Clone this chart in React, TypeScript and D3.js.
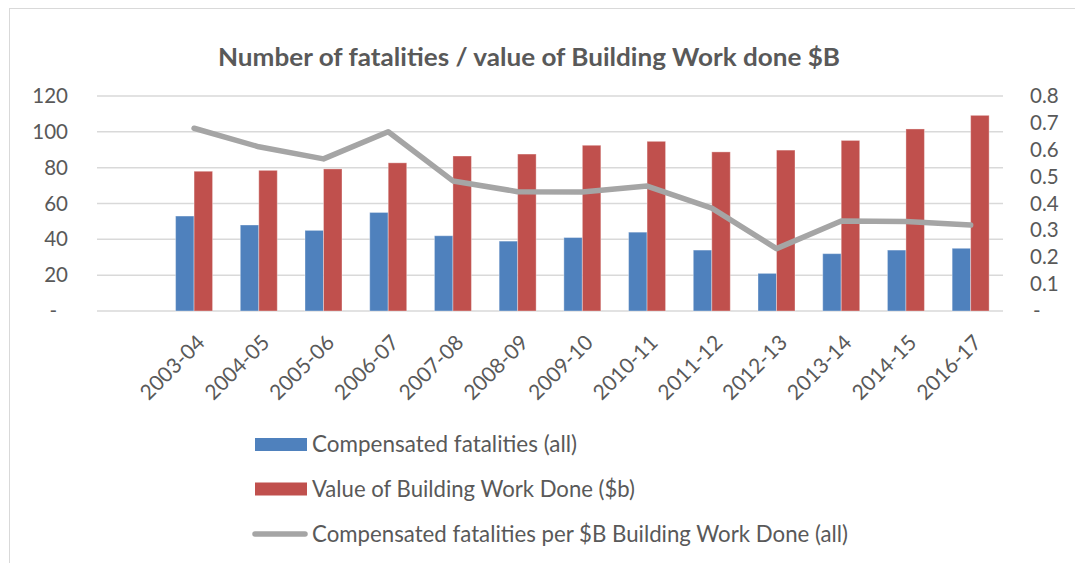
import * as d3 from 'd3';
import { useEffect, useRef } from 'react';

// first slot of the category axis is empty in the original chart
const categories = ['', '2003-04', '2004-05', '2005-06', '2006-07', '2007-08', '2008-09', '2009-10',
    '2010-11', '2011-12', '2012-13', '2013-14', '2014-15', '2016-17'];
const fatalities = [null, 53, 48, 45, 55, 42, 39, 41, 44, 34, 21, 32, 34, 35];
const buildingWork = [null, 78, 78.5, 79.3, 82.7, 86.5, 87.6, 92.5, 94.7, 88.8, 89.8, 95.2, 101.6, 109.2];
const perBillion = [null, 0.68, 0.611, 0.566, 0.667, 0.484, 0.444, 0.443, 0.465, 0.383, 0.232, 0.335, 0.333, 0.32];
const leftTicks = [0, 20, 40, 60, 80, 100, 120];
const rightTicks = [0, 0.1, 0.2, 0.3, 0.4, 0.5, 0.6, 0.7, 0.8];

const seriesNames = [
    'Compensated fatalities (all)',
    'Value of Building Work Done ($b)',
    'Compensated fatalities per $B Building Work Done (all)',
];
const title = 'Number of fatalities / value of Building Work done $B';

const BLUE = '#4f81bd';
const RED = '#c0504d';
const GREY = '#a5a5a5';
const TEXT = '#595959';
const FONT = 'Lato, "Open Sans", sans-serif';

export default function App() {
    const ref = useRef<SVGSVGElement>(null);

    useEffect(() => {
        const svg = d3.select(ref.current);
        svg.selectAll('*').remove();

        const left = 97, right = 1003, top = 96, bottom = 311;

        const x = d3.scaleBand().domain(categories).range([left, right]);
        const yL = d3.scaleLinear().domain([0, 120]).range([bottom, top]);
        const yR = d3.scaleLinear().domain([0, 0.8]).range([bottom, top]);
        const barW = x.bandwidth() / 3.5; // 150% gap width

        // chart frame
        svg.append('rect')
            .attr('x', 9.5).attr('y', 8.5)
            .attr('width', 1100).attr('height', 600)
            .attr('fill', '#fff').attr('stroke', '#d9d9d9');

        svg.append('text')
            .attr('x', 529).attr('y', 66)
            .attr('text-anchor', 'middle')
            .attr('font-family', FONT).attr('font-weight', 'bold')
            .attr('font-size', 24.5).attr('fill', TEXT)
            .attr('textLength', 622).attr('lengthAdjust', 'spacingAndGlyphs')
            .text(title);

        // gridlines
        svg.append('g')
            .selectAll('line')
            .data(leftTicks)
            .join('line')
            .attr('x1', left).attr('x2', right)
            .attr('y1', d => yL(d)).attr('y2', d => yL(d))
            .attr('stroke', '#d9d9d9').attr('stroke-width', 1.5);

        // left axis
        const gl = svg.append('g')
            .attr('transform', `translate(${left},0)`)
            .call(d3.axisLeft(yL).tickValues(leftTicks).tickSize(0).tickPadding(29)
                .tickFormat(d => (d === 0 ? '-' : String(d))));
        gl.select('.domain').remove();
        gl.selectAll('text')
            .attr('font-family', FONT).attr('font-size', 20.5).attr('fill', TEXT)
            .attr('dx', (d: any) => (d === 0 ? -11 : 0));

        // right axis
        const gr = svg.append('g')
            .attr('transform', `translate(${right},0)`)
            .call(d3.axisRight(yR).tickValues(rightTicks).tickSize(0).tickPadding(27)
                .tickFormat(d => (d === 0 ? '-' : d3.format('.1f')(d as number))));
        gr.select('.domain').remove();
        gr.selectAll('text')
            .attr('font-family', FONT).attr('font-size', 20.5).attr('fill', TEXT)
            .attr('dx', (d: any) => (d === 0 ? 3 : 0));

        const cx = (c: string) => (x(c) as number) + x.bandwidth() / 2;

        // bars
        const bars = svg.append('g');
        bars.selectAll('.blue')
            .data(categories.filter((c, i) => fatalities[i] != null))
            .join('rect')
            .attr('x', c => cx(c) - barW)
            .attr('y', c => yL(fatalities[categories.indexOf(c)] as number))
            .attr('width', barW)
            .attr('height', c => bottom - yL(fatalities[categories.indexOf(c)] as number))
            .attr('fill', BLUE).attr('stroke', 'rgba(255,255,255,0.35)');
        bars.selectAll('.red')
            .data(categories.filter((c, i) => buildingWork[i] != null))
            .join('rect')
            .attr('x', c => cx(c))
            .attr('y', c => yL(buildingWork[categories.indexOf(c)] as number))
            .attr('width', barW)
            .attr('height', c => bottom - yL(buildingWork[categories.indexOf(c)] as number))
            .attr('fill', RED).attr('stroke', 'rgba(255,255,255,0.35)');

        // line on secondary axis
        const pts = categories
            .map((c, i) => ({ c, v: perBillion[i] }))
            .filter(p => p.v != null);
        const line = d3.line<{ c: string, v: number | null }>()
            .x(p => cx(p.c))
            .y(p => yR(p.v as number));
        svg.append('path')
            .attr('d', line(pts))
            .attr('fill', 'none').attr('stroke', GREY)
            .attr('stroke-width', 5.5).attr('stroke-linejoin', 'round').attr('stroke-linecap', 'round');

        // category labels
        svg.append('g')
            .selectAll('text')
            .data(categories.filter(c => c !== ''))
            .join('text')
            .attr('transform', c => `translate(${cx(c) + 12},344) rotate(-45)`)
            .attr('text-anchor', 'end')
            .attr('font-family', FONT).attr('font-size', 21).attr('fill', TEXT)
            .text(c => c);

        // legend
        const legend = svg.append('g');
        const rows = [444.5, 489, 534];
        const widths = [265, 323, 536];
        legend.append('rect').attr('x', 255).attr('y', rows[0] - 6.5).attr('width', 52).attr('height', 13).attr('fill', BLUE);
        legend.append('rect').attr('x', 255).attr('y', rows[1] - 6.5).attr('width', 52).attr('height', 13).attr('fill', RED);
        legend.append('line')
            .attr('x1', 255).attr('x2', 305).attr('y1', rows[2]).attr('y2', rows[2])
            .attr('stroke', GREY).attr('stroke-width', 5.5).attr('stroke-linecap', 'round');
        legend.selectAll('text')
            .data(seriesNames)
            .join('text')
            .attr('x', 312)
            .attr('y', (d, i) => rows[i])
            .attr('dy', '0.35em')
            .attr('font-family', FONT).attr('font-size', 22.5).attr('fill', TEXT)
            .attr('textLength', (d, i) => widths[i]).attr('lengthAdjust', 'spacingAndGlyphs')
            .text(d => d);
    }, []);

    return (
        <svg ref={ref} width={1075} height={563}
            style={{ position: 'absolute', left: 0, top: 0 }} />
    );
}
